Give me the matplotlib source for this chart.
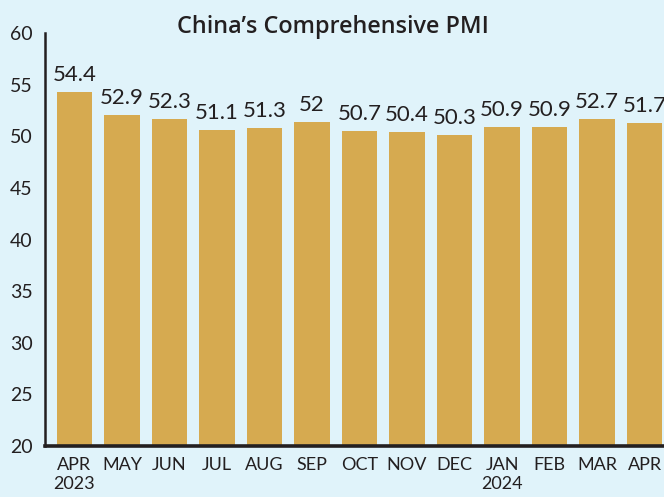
import matplotlib
matplotlib.use("Agg")
import matplotlib.pyplot as plt

months = ["APR\n2023", "MAY", "JUN", "JUL", "AUG", "SEP", "OCT", "NOV", "DEC",
          "JAN\n2024", "FEB", "MAR", "APR"]
label_values = ["54.4", "52.9", "52.3", "51.1", "51.3", "52", "50.7", "50.4",
                "50.3", "50.9", "50.9", "52.7", "51.7"]
bar_heights = [54.3, 52.1, 51.7, 50.6, 50.8, 51.4, 50.5, 50.4, 50.1, 50.9, 50.9, 51.7, 51.3]
yticks = [20, 25, 30, 35, 40, 45, 50, 55, 60]

bg = "#E0F3FA"
bar_color = "#D6AA50"
text_color = "#231F20"
plt.rcParams['font.family'] = ['Lato', 'DejaVu Sans']

fig = plt.figure(figsize=(6.64, 4.97), dpi=100, facecolor=bg)
ax = fig.add_axes([0.0678, 0.1026, 0.9322, 0.831])
ax.set_facecolor(bg)

x = list(range(len(months)))
ax.bar(x, [h - 20 for h in bar_heights], bottom=20, width=0.74, color=bar_color, zorder=2)

for xi, h, lab in zip(x, bar_heights, label_values):
    ax.annotate(lab, (xi, h), xytext=(0, 5), textcoords="offset points",
                ha="center", va="bottom", fontsize=16, color=text_color,
                annotation_clip=False)

ax.set_ylim(20, 60)
ax.set_xlim(-0.62, 12.41)
ax.set_yticks(yticks)
ax.set_yticklabels([str(t) for t in yticks], fontsize=14, color=text_color)
ax.set_xticks(x)
ax.set_xticklabels(months, fontsize=13, color=text_color, linespacing=1.25)
ax.tick_params(axis="y", length=0, pad=9)
ax.tick_params(axis="x", length=0, pad=8)

for s in ["top", "right"]:
    ax.spines[s].set_visible(False)
ax.spines["left"].set_color(text_color)
ax.spines["left"].set_linewidth(1.8)
ax.spines["bottom"].set_color(text_color)
ax.spines["bottom"].set_linewidth(2.6)

fig.text(0.502, 0.945, "China\u2019s Comprehensive PMI", ha="center", va="center",
         fontsize=16.8, fontweight="semibold", color=text_color,
         family=["Open Sans", "DejaVu Sans"])

fig.savefig("out.png", dpi=100, facecolor=bg)
